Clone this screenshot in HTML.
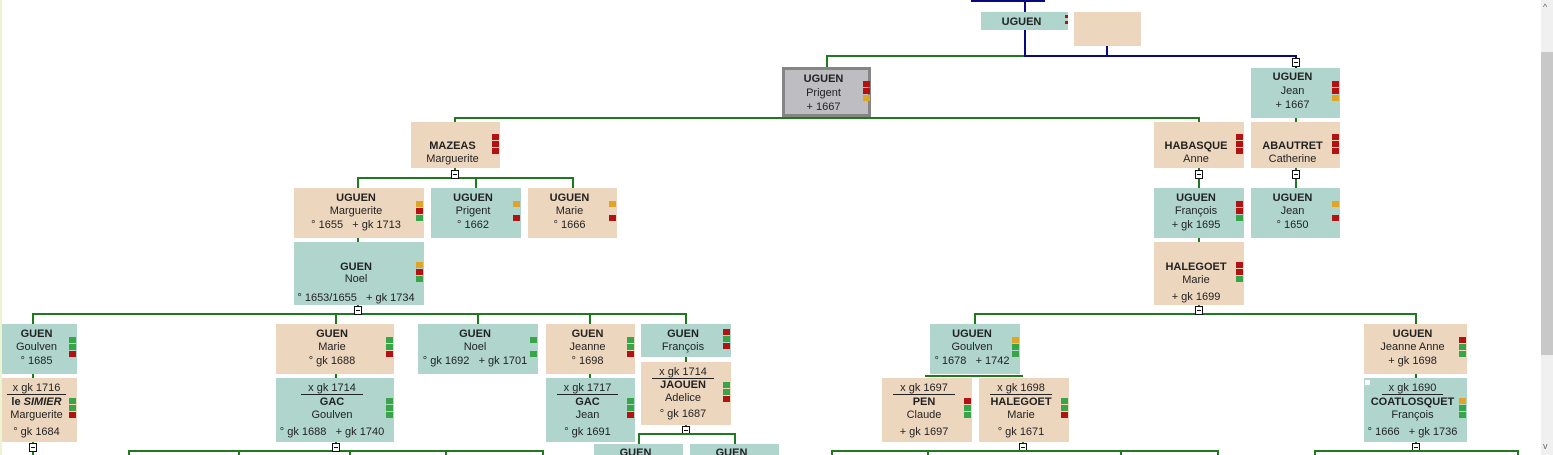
<!DOCTYPE html>
<html><head><meta charset="utf-8"><style>
body{margin:0;width:1553px;height:455px;overflow:hidden;background:#fff;position:relative;font-family:"Liberation Sans",sans-serif}
.b{position:absolute;font-size:11px;color:#222;text-align:center}
.t{background:#afd5cd}.n{background:#edd6be}
.b p{position:absolute;left:0;right:6px;margin:1px 0 0 0;line-height:13px;white-space:nowrap}
.b p.s{font-weight:bold}
.u{display:inline-block;border-bottom:1px solid #222;padding:0 7px;line-height:12px}
.h{position:absolute;height:2px;background:#1f7a1f}
.v{position:absolute;width:2px;background:#1f7a1f}
.bh{position:absolute;height:2px;background:#0a0a80}
.bv{position:absolute;width:2px;background:#0a0a80}
.m{position:absolute;width:7px;height:6px}
.r{background:#b31212}.o{background:#e0a528}.g{background:#38a548}
.x{position:absolute;width:6px;height:7px;border:1px solid #111;background:#fff}
.x:after{content:"";position:absolute;left:1px;top:3px;width:4px;height:1px;background:#111}
</style></head><body>
<div style="position:absolute;left:0;top:0;width:2px;height:455px;background:#eef4d2"></div>
<div style="position:absolute;left:1541px;top:0;width:12px;height:455px;background:#f0f0f0"></div>
<div style="position:absolute;left:1541px;top:52px;width:12px;height:303px;background:#c8c8c8"></div>
<div style="position:absolute;left:1543px;top:2px;font-size:9px;color:#666">^</div>
<div style="position:absolute;left:1543px;top:441px;font-size:9px;color:#666">v</div>

<div class="bh" style="left:971px;top:0;width:74px"></div>
<div class="bv" style="left:1024px;top:0;height:12px"></div>
<div class="bv" style="left:1024px;top:30px;height:27px"></div>
<div class="bv" style="left:1106px;top:46px;height:11px"></div>
<div class="bh" style="left:1024px;top:55px;width:273px"></div>
<div class="bv" style="left:1295px;top:55px;height:13px"></div>
<div class="x" style="left:1292px;top:58px"></div>
<div class="h" style="left:826px;top:55px;width:198px"></div>
<div class="v" style="left:826px;top:55px;height:13px"></div>

<div class="b t" style="left:981px;top:12px;width:87px;height:18px"><p class="s" style="top:3px">UGUEN</p></div>
<div class="m r" style="left:1065px;top:15px;width:3px;height:3px"></div>
<div class="m r" style="left:1065px;top:21px;width:3px;height:3px"></div>
<div class="b n" style="left:1074px;top:12px;width:67px;height:34px"></div>

<div class="b" style="left:782px;top:67px;width:83px;height:44px;background:#bebec2;border:3px solid #858585"><p class="s" style="top:2px">UGUEN</p><p style="top:16px">Prigent</p><p style="top:30px">+ 1667</p></div>
<div class="m r" style="left:863px;top:81px"></div><div class="m r" style="left:863px;top:88px"></div><div class="m o" style="left:863px;top:95px"></div>
<div class="b t" style="left:1251px;top:68px;width:89px;height:50px"><p class="s" style="top:2px">UGUEN</p><p style="top:16px">Jean</p><p style="top:30px">+ 1667</p></div>
<div class="m r" style="left:1332px;top:81px"></div><div class="m r" style="left:1332px;top:88px"></div><div class="m o" style="left:1332px;top:95px"></div>

<div class="h" style="left:454px;top:117px;width:746px"></div>
<div class="v" style="left:454px;top:117px;height:5px"></div>
<div class="v" style="left:1198px;top:117px;height:5px"></div>
<div class="v" style="left:1295px;top:118px;height:4px"></div>

<div class="b n" style="left:411px;top:122px;width:89px;height:46px"><p class="s" style="top:17px">MAZEAS</p><p style="top:30px">Marguerite</p></div>
<div class="m r" style="left:492px;top:134px"></div><div class="m r" style="left:492px;top:141px"></div><div class="m r" style="left:492px;top:148px"></div>
<div class="b n" style="left:1154px;top:122px;width:90px;height:46px"><p class="s" style="top:17px">HABASQUE</p><p style="top:30px">Anne</p></div>
<div class="m r" style="left:1236px;top:134px"></div><div class="m r" style="left:1236px;top:141px"></div><div class="m r" style="left:1236px;top:148px"></div>
<div class="b n" style="left:1251px;top:122px;width:89px;height:46px"><p class="s" style="top:17px">ABAUTRET</p><p style="top:30px">Catherine</p></div>
<div class="m r" style="left:1332px;top:134px"></div><div class="m r" style="left:1332px;top:141px"></div><div class="m r" style="left:1332px;top:148px"></div>

<div class="h" style="left:357px;top:177px;width:217px"></div>
<div class="v" style="left:454px;top:168px;height:10px"></div>
<div class="v" style="left:357px;top:177px;height:11px"></div>
<div class="v" style="left:475px;top:177px;height:11px"></div>
<div class="v" style="left:572px;top:177px;height:11px"></div>
<div class="x" style="left:451px;top:170px"></div>
<div class="v" style="left:1198px;top:168px;height:20px"></div><div class="x" style="left:1195px;top:170px"></div>
<div class="v" style="left:1295px;top:168px;height:20px"></div><div class="x" style="left:1292px;top:170px"></div>

<div class="b n" style="left:294px;top:188px;width:130px;height:50px"><p class="s" style="top:3px">UGUEN</p><p style="top:16px">Marguerite</p><p style="top:30px">° 1655 &nbsp; + gk 1713</p></div>
<div class="m o" style="left:416px;top:201px"></div><div class="m r" style="left:416px;top:208px"></div><div class="m g" style="left:416px;top:215px"></div>
<div class="b t" style="left:431px;top:188px;width:90px;height:50px"><p class="s" style="top:3px">UGUEN</p><p style="top:16px">Prigent</p><p style="top:30px">° 1662</p></div>
<div class="m o" style="left:513px;top:201px"></div><div class="m r" style="left:513px;top:215px"></div>
<div class="b n" style="left:528px;top:188px;width:89px;height:50px"><p class="s" style="top:3px">UGUEN</p><p style="top:16px">Marie</p><p style="top:30px">° 1666</p></div>
<div class="m o" style="left:609px;top:201px"></div><div class="m r" style="left:609px;top:215px"></div>
<div class="b t" style="left:1154px;top:188px;width:90px;height:50px"><p class="s" style="top:3px">UGUEN</p><p style="top:16px">François</p><p style="top:30px">+ gk 1695</p></div>
<div class="m r" style="left:1236px;top:201px"></div><div class="m r" style="left:1236px;top:208px"></div><div class="m g" style="left:1236px;top:215px"></div>
<div class="b t" style="left:1251px;top:188px;width:89px;height:50px"><p class="s" style="top:3px">UGUEN</p><p style="top:16px">Jean</p><p style="top:30px">° 1650</p></div>
<div class="m o" style="left:1332px;top:201px"></div><div class="m r" style="left:1332px;top:215px"></div>

<div class="v" style="left:357px;top:238px;height:4px"></div>
<div class="v" style="left:1198px;top:238px;height:4px"></div>
<div class="b t" style="left:294px;top:242px;width:130px;height:63px"><p class="s" style="top:18px">GUEN</p><p style="top:30px">Noel</p><p style="top:49px">° 1653/1655 &nbsp; + gk 1734</p></div>
<div class="m o" style="left:416px;top:262px"></div><div class="m r" style="left:416px;top:269px"></div><div class="m g" style="left:416px;top:276px"></div>
<div class="b n" style="left:1154px;top:242px;width:90px;height:63px"><p class="s" style="top:18px">HALEGOET</p><p style="top:31px">Marie</p><p style="top:48px">+ gk 1699</p></div>
<div class="m r" style="left:1236px;top:262px"></div><div class="m r" style="left:1236px;top:269px"></div><div class="m g" style="left:1236px;top:276px"></div>

<div class="h" style="left:32px;top:313px;width:655px"></div>
<div class="v" style="left:357px;top:305px;height:9px"></div><div class="x" style="left:354px;top:306px"></div>
<div class="v" style="left:32px;top:313px;height:11px"></div>
<div class="v" style="left:335px;top:313px;height:11px"></div>
<div class="v" style="left:477px;top:313px;height:11px"></div>
<div class="v" style="left:589px;top:313px;height:11px"></div>
<div class="v" style="left:685px;top:313px;height:11px"></div>
<div class="h" style="left:974px;top:313px;width:443px"></div>
<div class="v" style="left:1198px;top:305px;height:9px"></div><div class="x" style="left:1195px;top:306px"></div>
<div class="v" style="left:974px;top:313px;height:11px"></div>
<div class="v" style="left:1415px;top:313px;height:11px"></div>

<div class="b t" style="left:2px;top:324px;width:75px;height:50px"><p class="s" style="top:3px">GUEN</p><p style="top:16px">Goulven</p><p style="top:30px">° 1685</p></div>
<div class="m g" style="left:69px;top:337px"></div><div class="m g" style="left:69px;top:344px"></div><div class="m r" style="left:69px;top:351px"></div>
<div class="b n" style="left:276px;top:324px;width:118px;height:50px"><p class="s" style="top:3px">GUEN</p><p style="top:16px">Marie</p><p style="top:30px">° gk 1688</p></div>
<div class="m g" style="left:386px;top:337px"></div><div class="m g" style="left:386px;top:344px"></div><div class="m r" style="left:386px;top:351px"></div>
<div class="b t" style="left:418px;top:324px;width:120px;height:50px"><p class="s" style="top:3px">GUEN</p><p style="top:16px">Noel</p><p style="top:30px">° gk 1692 &nbsp; + gk 1701</p></div>
<div class="m g" style="left:530px;top:337px"></div><div class="m g" style="left:530px;top:351px"></div>
<div class="b n" style="left:546px;top:324px;width:89px;height:50px"><p class="s" style="top:3px">GUEN</p><p style="top:16px">Jeanne</p><p style="top:30px">° 1698</p></div>
<div class="m g" style="left:627px;top:337px"></div><div class="m g" style="left:627px;top:344px"></div><div class="m r" style="left:627px;top:351px"></div>
<div class="b t" style="left:641px;top:324px;width:90px;height:33px"><p class="s" style="top:3px">GUEN</p><p style="top:16px">François</p></div>
<div class="m r" style="left:723px;top:329px"></div><div class="m g" style="left:723px;top:336px"></div><div class="m r" style="left:723px;top:343px"></div>
<div class="b t" style="left:930px;top:324px;width:90px;height:50px"><p class="s" style="top:3px">UGUEN</p><p style="top:16px">Goulven</p><p style="top:30px">° 1678 &nbsp; + 1742</p></div>
<div class="m o" style="left:1012px;top:337px"></div><div class="m g" style="left:1012px;top:344px"></div><div class="m g" style="left:1012px;top:351px"></div>
<div class="b n" style="left:1364px;top:324px;width:103px;height:50px"><p class="s" style="top:3px">UGUEN</p><p style="top:16px">Jeanne Anne</p><p style="top:30px">+ gk 1698</p></div>
<div class="m r" style="left:1459px;top:337px"></div><div class="m g" style="left:1459px;top:344px"></div><div class="m g" style="left:1459px;top:351px"></div>

<div class="v" style="left:32px;top:374px;height:4px"></div>
<div class="v" style="left:335px;top:374px;height:4px"></div>
<div class="v" style="left:589px;top:374px;height:4px"></div>
<div class="v" style="left:685px;top:357px;height:5px"></div>
<div class="h" style="left:925px;top:375px;width:98px"></div>
<div class="v" style="left:1415px;top:374px;height:4px"></div>

<div class="b n" style="left:2px;top:378px;width:75px;height:64px"><p style="top:3px"><span class="u" style="padding:0 6px">x gk 1716</span></p><p class="s" style="top:17px">le <i>SIMIER</i></p><p style="top:30px">Marguerite</p><p style="top:47px">° gk 1684</p></div>
<div class="m g" style="left:69px;top:398px"></div><div class="m g" style="left:69px;top:405px"></div><div class="m r" style="left:69px;top:412px"></div>
<div class="b t" style="left:276px;top:378px;width:118px;height:64px"><p style="top:3px"><span class="u">x gk 1714</span></p><p class="s" style="top:17px">GAC</p><p style="top:30px">Goulven</p><p style="top:47px">° gk 1688 &nbsp; + gk 1740</p></div>
<div class="m g" style="left:386px;top:398px"></div><div class="m g" style="left:386px;top:405px"></div><div class="m g" style="left:386px;top:412px"></div>
<div class="b t" style="left:546px;top:378px;width:89px;height:64px"><p style="top:3px"><span class="u">x gk 1717</span></p><p class="s" style="top:17px">GAC</p><p style="top:30px">Jean</p><p style="top:47px">° gk 1691</p></div>
<div class="m g" style="left:627px;top:398px"></div><div class="m g" style="left:627px;top:405px"></div><div class="m r" style="left:627px;top:412px"></div>
<div class="b n" style="left:641px;top:362px;width:90px;height:63px"><p style="top:3px"><span class="u">x gk 1714</span></p><p class="s" style="top:16px">JAOUEN</p><p style="top:29px">Adelice</p><p style="top:45px">° gk 1687</p></div>
<div class="m g" style="left:723px;top:382px"></div><div class="m g" style="left:723px;top:389px"></div><div class="m r" style="left:723px;top:396px"></div>
<div class="b n" style="left:882px;top:378px;width:90px;height:64px"><p style="top:3px"><span class="u">x gk 1697</span></p><p class="s" style="top:17px">PEN</p><p style="top:30px">Claude</p><p style="top:47px">+ gk 1697</p></div>
<div class="m r" style="left:964px;top:398px"></div><div class="m g" style="left:964px;top:405px"></div><div class="m g" style="left:964px;top:412px"></div>
<div class="b n" style="left:979px;top:378px;width:90px;height:64px"><p style="top:3px"><span class="u">x gk 1698</span></p><p class="s" style="top:17px">HALEGOET</p><p style="top:30px">Marie</p><p style="top:47px">° gk 1671</p></div>
<div class="m g" style="left:1061px;top:398px"></div><div class="m g" style="left:1061px;top:405px"></div><div class="m r" style="left:1061px;top:412px"></div>
<div class="b t" style="left:1364px;top:378px;width:103px;height:64px"><p style="top:3px"><span class="u">x gk 1690</span></p><p class="s" style="top:17px">COATLOSQUET</p><p style="top:30px">François</p><p style="top:47px">° 1666 &nbsp; + gk 1736</p></div>
<div style="position:absolute;left:1365px;top:380px;width:5px;height:5px;background:#fff"></div>
<div class="m o" style="left:1459px;top:398px"></div><div class="m g" style="left:1459px;top:405px"></div><div class="m g" style="left:1459px;top:412px"></div>

<div class="v" style="left:32px;top:442px;height:13px"></div><div class="x" style="left:29px;top:443px"></div>
<div class="h" style="left:128px;top:450px;width:416px"></div>
<div class="v" style="left:335px;top:442px;height:9px"></div><div class="x" style="left:332px;top:443px"></div>
<div class="v" style="left:128px;top:450px;height:5px"></div><div class="v" style="left:238px;top:450px;height:5px"></div>
<div class="v" style="left:349px;top:450px;height:5px"></div><div class="v" style="left:445px;top:450px;height:5px"></div>
<div class="v" style="left:542px;top:450px;height:5px"></div>
<div class="v" style="left:685px;top:425px;height:9px"></div><div class="x" style="left:682px;top:426px"></div>
<div class="h" style="left:638px;top:433px;width:98px"></div>
<div class="v" style="left:638px;top:433px;height:11px"></div><div class="v" style="left:734px;top:433px;height:11px"></div>
<div class="b t" style="left:594px;top:444px;width:89px;height:11px;overflow:hidden"><p class="s" style="top:2px">GUEN</p></div>
<div class="b t" style="left:690px;top:444px;width:89px;height:11px;overflow:hidden"><p class="s" style="top:2px">GUEN</p></div>
<div class="v" style="left:1022px;top:442px;height:9px"></div><div class="x" style="left:1019px;top:443px"></div>
<div class="h" style="left:831px;top:450px;width:388px"></div>
<div class="v" style="left:831px;top:450px;height:5px"></div><div class="v" style="left:927px;top:450px;height:5px"></div>
<div class="v" style="left:1120px;top:450px;height:5px"></div><div class="v" style="left:1217px;top:450px;height:5px"></div>
<div class="v" style="left:1415px;top:442px;height:9px"></div><div class="x" style="left:1412px;top:443px"></div>
<div class="h" style="left:1314px;top:450px;width:205px"></div>
<div class="v" style="left:1314px;top:450px;height:5px"></div><div class="v" style="left:1517px;top:450px;height:5px"></div>
</body></html>
